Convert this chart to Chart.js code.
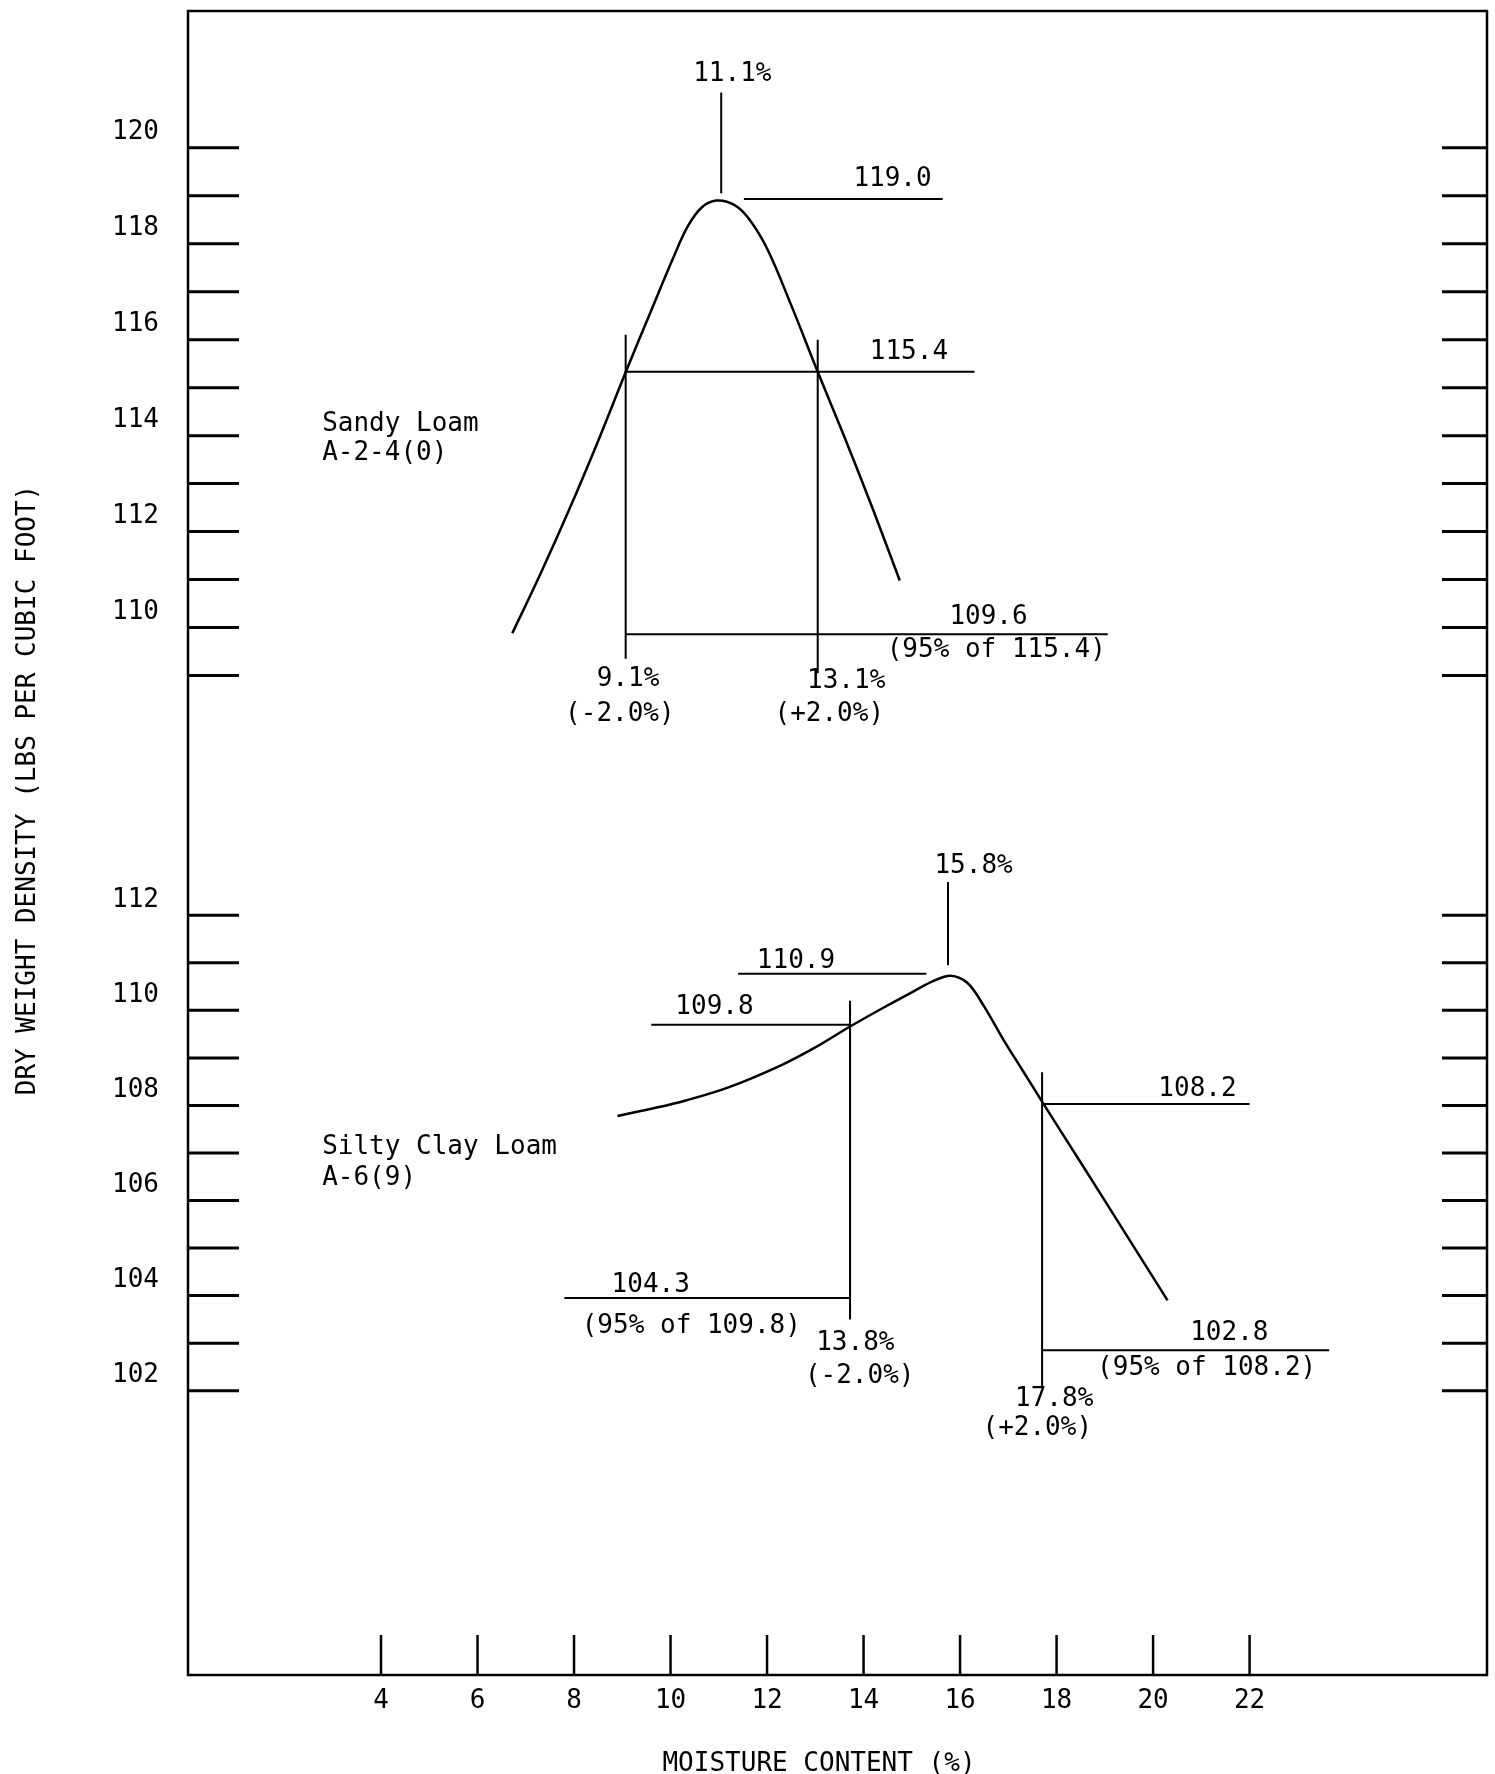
<!DOCTYPE html>
<html>
<head>
<meta charset="utf-8">
<script src="https://cdn.jsdelivr.net/npm/chart.js@4.4.1/dist/chart.umd.min.js"></script>
<style>
    body { margin: 0; background: #fff; }
    canvas { display: block; }
</style>
</head>
<body>
<canvas id="grafico" width="1495" height="1774"></canvas>
<script>
// Sandy Loam A-2-4(0): humedad (%) vs densidad seca (pcf)
const arenaX = [6.72, 7.3, 7.9, 8.5, 9.07, 9.6, 10.05, 10.35, 10.65, 10.95, 11.3, 11.6, 12.0, 12.5, 13.05, 13.6, 14.2, 14.75];
const arenaY = [109.88, 111.11, 112.46, 113.89, 115.32, 116.61, 117.69, 118.35, 118.76, 118.9, 118.82, 118.55, 117.9, 116.72, 115.33, 113.98, 112.45, 110.98];

// Silty Clay Loam A-6(9)
const limoX = [8.9, 9.6, 10.3, 11.2, 12.3, 13.0, 13.72, 14.4, 15.0, 15.45, 15.8, 16.15, 16.5, 16.9, 17.3, 17.7, 18.5, 19.4, 20.3];
const limoY = [107.78, 107.93, 108.1, 108.38, 108.85, 109.22, 109.66, 110.05, 110.38, 110.62, 110.73, 110.58, 110.08, 109.38, 108.73, 108.08, 106.8, 105.35, 103.9];

// marcas de los ejes
const xTicks = [4, 6, 8, 10, 12, 14, 16, 18, 20, 22];
const ySupTicks = [109, 110, 111, 112, 113, 114, 115, 116, 117, 118, 119, 120];
const yInfTicks = [102, 103, 104, 105, 106, 107, 108, 109, 110, 111, 112];

// líneas de referencia [x1, y1, x2, y2]
const lineasArena = [
    [11.05, 119.05, 11.05, 121.15],
    [11.52, 118.93, 15.64, 118.93],
    [9.07, 115.33, 16.3, 115.33],
    [9.07, 116.1, 9.07, 109.35],
    [13.05, 116.0, 13.05, 109.05],
    [9.07, 109.86, 19.06, 109.86]
];
const lineasLimo = [
    [15.75, 110.95, 15.75, 112.7],
    [11.4, 110.77, 15.3, 110.77],
    [9.6, 109.7, 13.72, 109.7],
    [13.72, 110.2, 13.72, 103.5],
    [17.7, 108.03, 22.0, 108.03],
    [17.7, 108.7, 17.7, 102.1],
    [7.8, 103.95, 13.72, 103.95],
    [17.7, 102.85, 23.65, 102.85]
];

// textos [texto, x, y, alineación]
const textosArena = [
    ["11.1%", 11.28, 121.54, "center"],
    ["119.0", 14.6, 119.34, "center"],
    ["115.4", 14.94, 115.73, "center"],
    ["Sandy Loam", 2.78, 114.24, "left"],
    ["A-2-4(0)", 2.78, 113.63, "left"],
    ["109.6", 16.59, 110.21, "center"],
    ["(95% of 115.4)", 16.75, 109.53, "center"],
    ["9.1%", 9.12, 108.93, "center"],
    ["(-2.0%)", 8.95, 108.2, "center"],
    ["13.1%", 13.64, 108.89, "center"],
    ["(+2.0%)", 13.29, 108.2, "center"]
];
const textosLimo = [
    ["15.8%", 16.28, 113.03, "center"],
    ["110.9", 12.6, 111.04, "center"],
    ["109.8", 10.91, 110.06, "center"],
    ["Silty Clay Loam", 2.78, 107.12, "left"],
    ["A-6(9)", 2.78, 106.47, "left"],
    ["104.3", 9.59, 104.22, "center"],
    ["(95% of 109.8)", 10.43, 103.36, "center"],
    ["13.8%", 13.83, 103.0, "center"],
    ["(-2.0%)", 13.92, 102.31, "center"],
    ["108.2", 20.92, 108.34, "center"],
    ["102.8", 21.58, 103.2, "center"],
    ["(95% of 108.2)", 21.11, 102.48, "center"],
    ["17.8%", 17.95, 101.83, "center"],
    ["(+2.0%)", 17.6, 101.21, "center"]
];

const fuente = '26px "DejaVu Sans Mono"';

function puntos(xs, ys) {
    return xs.map((x, i) => ({ x: x, y: ys[i] }));
}

function curva(xs, ys, eje) {
    return {
        data: puntos(xs, ys),
        yAxisID: eje,
        borderColor: '#000',
        borderWidth: 2.5,
        pointRadius: 0,
        tension: 0.35
    };
}

function segmento(l, eje) {
    return {
        data: [{ x: l[0], y: l[1] }, { x: l[2], y: l[3] }],
        yAxisID: eje,
        borderColor: '#000',
        borderWidth: 2,
        pointRadius: 0,
        tension: 0
    };
}

const datasets = [curva(arenaX, arenaY, 'ySup'), curva(limoX, limoY, 'yInf')];
lineasArena.forEach(l => datasets.push(segmento(l, 'ySup')));
lineasLimo.forEach(l => datasets.push(segmento(l, 'yInf')));

// Marco, marcas hacia adentro y textos
const marcas = {
    id: 'marcas',
    afterDraw(chart) {
        const ctx = chart.ctx;
        const a = chart.chartArea;
        const sx = chart.scales.x;
        ctx.save();
        ctx.strokeStyle = '#000';
        ctx.lineWidth = 2.5;
        ctx.strokeRect(a.left, a.top, a.right - a.left, a.bottom - a.top);

        ctx.lineWidth = 3;
        [[chart.scales.ySup, ySupTicks], [chart.scales.yInf, yInfTicks]].forEach(([s, vals]) => {
            vals.forEach(v => {
                const p = s.getPixelForValue(v);
                ctx.beginPath();
                ctx.moveTo(a.left, p);
                ctx.lineTo(a.left + 51, p);
                ctx.moveTo(a.right - 45, p);
                ctx.lineTo(a.right, p);
                ctx.stroke();
            });
        });

        ctx.lineWidth = 2.5;
        xTicks.forEach(v => {
            const p = sx.getPixelForValue(v);
            ctx.beginPath();
            ctx.moveTo(p, a.bottom);
            ctx.lineTo(p, a.bottom - 40);
            ctx.stroke();
        });

        ctx.fillStyle = '#000';
        ctx.font = fuente;
        ctx.textBaseline = 'middle';
        [[chart.scales.ySup, textosArena], [chart.scales.yInf, textosLimo]].forEach(([s, textos]) => {
            textos.forEach(t => {
                ctx.textAlign = t[3];
                ctx.fillText(t[0], sx.getPixelForValue(t[1]), s.getPixelForValue(t[2]));
            });
        });

        // títulos de los ejes
        ctx.textAlign = 'center';
        ctx.fillText('MOISTURE CONTENT (%)', 819, 1764);
        ctx.translate(28, 790);
        ctx.rotate(-Math.PI / 2);
        ctx.fillText('DRY WEIGHT DENSITY (LBS PER CUBIC FOOT)', 0, 0);
        ctx.restore();
    }
};

function ejeY(min, max, peso, valores) {
    return {
        type: 'linear',
        position: 'left',
        stack: 'y',
        stackWeight: peso,
        min: min,
        max: max,
        grid: { display: false, drawTicks: false },
        border: { display: false },
        afterBuildTicks: s => { s.ticks = valores.map(v => ({ value: v })); },
        afterFit: s => { s.width = 188; s.paddingTop = 0; s.paddingBottom = 0; },
        ticks: {
            autoSkip: false,
            padding: 29,
            labelOffset: -15,
            color: '#000',
            font: { family: 'DejaVu Sans Mono', size: 26 },
            callback: v => (v % 2 === 0 ? String(v) : '')
        }
    };
}

new Chart(document.getElementById('grafico'), {
    type: 'line',
    data: { datasets: datasets },
    options: {
        responsive: false,
        animation: false,
        devicePixelRatio: 1,
        layout: { padding: { top: 11, right: 8, left: 0, bottom: 0 } },
        plugins: { legend: { display: false }, tooltip: { enabled: false } },
        scales: {
            x: {
                type: 'linear',
                min: 0,
                max: 26.92,
                grid: { display: false, drawTicks: false },
                border: { display: false },
                afterBuildTicks: s => { s.ticks = xTicks.map(v => ({ value: v })); },
                afterFit: s => { s.height = 99; s.paddingLeft = 0; s.paddingRight = 0; },
                ticks: {
                    autoSkip: false,
                    maxRotation: 0,
                    padding: 11,
                    color: '#000',
                    font: { family: 'DejaVu Sans Mono', size: 26 }
                }
            },
            yInf: ejeY(96.02, 114.53, 880, yInfTicks),
            ySup: ejeY(106.51, 122.85, 784, ySupTicks)
        }
    },
    plugins: [marcas]
});
</script>
</body>
</html>
